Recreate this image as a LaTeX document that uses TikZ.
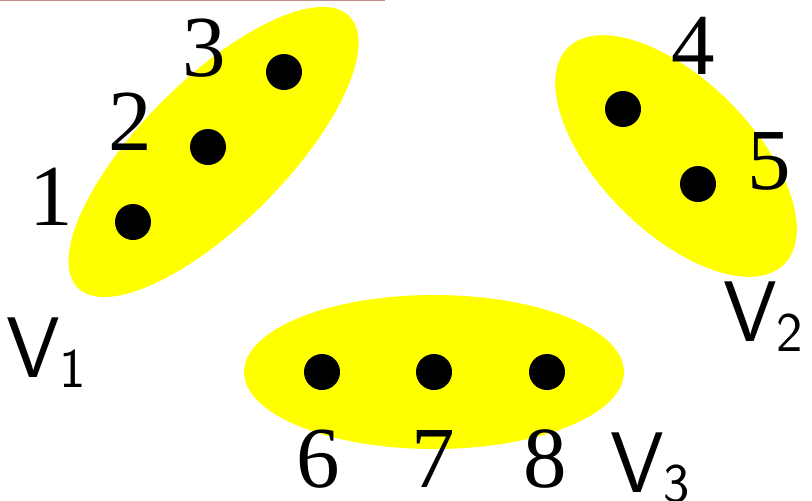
\documentclass[tikz,border=0pt]{standalone}
\usepackage{fontspec}
\setmainfont{Liberation Serif}
\definecolor{puryellow}{RGB}{255,255,0}
\definecolor{topline}{RGB}{195,140,140}
\begin{document}
\begin{tikzpicture}[x=1pt,y=-1pt,
  blob/.style={fill=puryellow,draw=none},
  dot/.style={circle,fill=black,inner sep=0pt,minimum size=36pt},
  num/.style={inner sep=0pt,font=\fontsize{87}{87}\selectfont},
  setlab/.style={inner sep=0pt,anchor=north west,font=\fontsize{86}{86}\selectfont\sffamily}]
\useasboundingbox (0,0) rectangle (812,501);
\draw[line width=1.6pt,draw=topline] (0,0) -- (385,0);
% groups
\fill[blob,rotate around={45:(213.5,152)}] (213.5,152) ellipse [x radius=192,y radius=72];
\fill[blob,rotate around={-45:(676,156)}] (676,156) ellipse [x radius=153,y radius=76];
\fill[blob] (434,372) ellipse [x radius=190,y radius=77];
% vertices
\node[dot] (v1) at (133,222) {};
\node[dot] (v2) at (208,147) {};
\node[dot] (v3) at (284,72) {};
\node[dot] (v4) at (623,109) {};
\node[dot] (v5) at (698,184) {};
\node[dot] (v6) at (322,372) {};
\node[dot] (v7) at (434,372) {};
\node[dot] (v8) at (547,372) {};
% labels
\node[num] (l1) at (51,197) {1};
\node[num] (l2) at (130,122) {2};
\node[num] (l3) at (204,48) {3};
\node[num] (l4) at (693,46) {4};
\node[num] (l5) at (769,161) {5};
\node[num] (l6) at (318,459) {6};
\node[num] (l7) at (433,459) {7};
\node[num] (l8) at (545,459) {8};
\node[setlab] (s1) at (6,318) {V\raisebox{-10pt}{\fontsize{56}{56}\selectfont 1}};
\node[setlab] (s2) at (723,282) {V\raisebox{-10pt}{\fontsize{56}{56}\selectfont 2}};
\node[setlab] (s3) at (610,433) {V\raisebox{-10pt}{\fontsize{56}{56}\selectfont 3}};
\end{tikzpicture}
\end{document}
